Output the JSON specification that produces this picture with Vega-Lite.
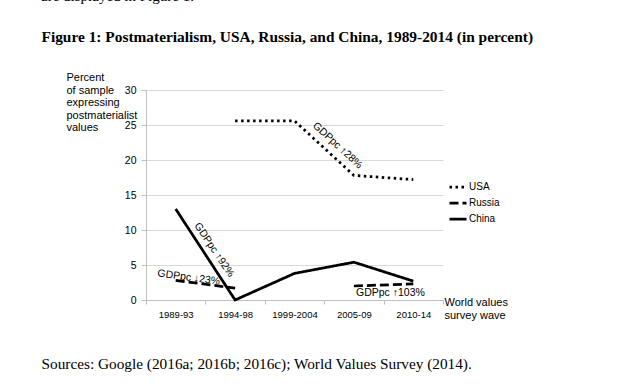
{
  "$schema": "https://vega.github.io/schema/vega-lite/v6.json",
  "width": 297,
  "height": 210,
  "autosize": {"type": "none"},
  "padding": {"left": 146, "top": 90, "right": 177, "bottom": 86},
  "background": "white",
  "title": {"text": "are displayed in Figure 1.", "anchor": "start", "frame": "group", "dx": -105, "offset": 25, "font": "Liberation Serif", "fontSize": 15, "fontWeight": "normal", "color": "#000000"},
  "config": {"view": {"stroke": null}},
  "layer": [
    {
      "data": {"values": [
        {"wave": "1989-93", "series": "China", "value": 13},
        {"wave": "1994-98", "series": "China", "value": 0},
        {"wave": "1999-2004", "series": "China", "value": 3.8},
        {"wave": "2005-09", "series": "China", "value": 5.4},
        {"wave": "2010-14", "series": "China", "value": 2.7},
        {"wave": "1989-93", "series": "Russia", "value": 2.8},
        {"wave": "1994-98", "series": "Russia", "value": 1.7},
        {"wave": "1999-2004", "series": "Russia", "value": null},
        {"wave": "2005-09", "series": "Russia", "value": 2.0},
        {"wave": "2010-14", "series": "Russia", "value": 2.3},
        {"wave": "1994-98", "series": "USA", "value": 25.6},
        {"wave": "1999-2004", "series": "USA", "value": 25.6},
        {"wave": "2005-09", "series": "USA", "value": 17.8},
        {"wave": "2010-14", "series": "USA", "value": 17.2}
      ]},
      "mark": {"type": "line", "color": "#000000", "strokeWidth": 2.75},
      "encoding": {
        "x": {"field": "wave", "type": "nominal",
          "scale": {"type": "band", "domain": ["1989-93", "1994-98", "1999-2004", "2005-09", "2010-14"], "paddingInner": 0, "paddingOuter": 0},
          "axis": {"orient": "bottom", "tickBand": "extent", "grid": false, "domainColor": "#bfbfbf", "tickColor": "#bfbfbf", "tickSize": 4, "labelAngle": 0, "labelFont": "Liberation Sans", "labelFontSize": 9.5, "labelColor": "#000000", "labelPadding": 5,
            "title": ["World values", "survey wave"], "titleX": 298, "titleY": 5.7, "titleAlign": "left", "titleBaseline": "alphabetic", "titleFont": "Liberation Sans", "titleFontSize": 11, "titleFontWeight": "normal", "titleColor": "#000000", "titleLineHeight": 12.5}},
        "y": {"field": "value", "type": "quantitative",
          "scale": {"domain": [0, 30], "nice": false},
          "axis": {"orient": "left", "values": [0, 5, 10, 15, 20, 25, 30], "grid": true, "gridColor": "#d9d9d9", "domainColor": "#bfbfbf", "tickColor": "#bfbfbf", "tickSize": 5, "labelFont": "Liberation Sans", "labelFontSize": 10.5, "labelColor": "#000000", "labelPadding": 5,
            "title": ["Percent", "of sample", "expressing", "postmaterialist", "values"], "titleAngle": 0, "titleX": -80, "titleY": -9.3, "titleAlign": "left", "titleBaseline": "alphabetic", "titleFont": "Liberation Sans", "titleFontSize": 11, "titleFontWeight": "normal", "titleColor": "#000000", "titleLineHeight": 12.5}},
        "strokeDash": {"field": "series", "type": "nominal",
          "scale": {"domain": ["USA", "Russia", "China"], "range": [[2.5, 3.5], [9, 4], [1, 0]]},
          "legend": {"orient": "none", "legendX": 302, "legendY": 87, "title": null, "symbolType": "stroke", "symbolSize": 289, "symbolStrokeWidth": 2.75, "symbolStrokeColor": "#000000", "labelFont": "Liberation Sans", "labelFontSize": 10, "labelColor": "#000000", "labelOffset": 1, "rowPadding": -1, "padding": 0}}
      }
    },
    {
      "data": {"values": [{"wave": "1999-2004", "value": 22.07, "label": "GDPpc ↑28%"}]},
      "mark": {"type": "text", "font": "Liberation Sans", "fontSize": 10.5, "color": "#000000", "angle": 42.5, "dx": 31.7, "dy": -29.1, "align": "center", "baseline": "middle"},
      "encoding": {
        "x": {"field": "wave", "type": "nominal",
          "axis": {"orient": "top", "domain": false, "ticks": false, "labels": false, "grid": false,
            "title": "Figure 1: Postmaterialism, USA, Russia, and China, 1989-2014 (in percent)", "titleX": -105, "titleY": -49, "titleAlign": "left", "titleBaseline": "alphabetic", "titleFont": "Liberation Serif", "titleFontSize": 15.4, "titleFontWeight": "bold", "titleColor": "#000000"}},
        "y": {"field": "value", "type": "quantitative",
          "axis": {"orient": "right", "domain": false, "ticks": false, "labels": false, "grid": false,
            "title": "Sources: Google (2016a; 2016b; 2016c); World Values Survey (2014).", "titleAngle": 0, "titleX": -402, "titleY": 278, "titleAlign": "left", "titleBaseline": "alphabetic", "titleFont": "Liberation Serif", "titleFontSize": 15.3, "titleFontWeight": "normal", "titleColor": "#000000"}},
        "text": {"field": "label", "type": "nominal"}
      }
    },
    {
      "data": {"values": [{"wave": "1989-93", "value": 7.14, "label": "GDPpc ↑92%"}]},
      "mark": {"type": "text", "font": "Liberation Sans", "fontSize": 10.5, "color": "#000000", "angle": 56, "dx": 21.5, "dy": -31.9, "align": "center", "baseline": "middle"},
      "encoding": {
        "x": {"field": "wave", "type": "nominal", "axis": null},
        "y": {"field": "value", "type": "quantitative", "axis": null},
        "text": {"field": "label", "type": "nominal"}
      }
    },
    {
      "data": {"values": [{"wave": "1989-93", "value": 3.21, "label": "GDPpc ↓23%"}]},
      "mark": {"type": "text", "font": "Liberation Sans", "fontSize": 10.5, "color": "#000000", "angle": 7.6, "dx": 12.9, "dy": -1.7, "align": "center", "baseline": "middle"},
      "encoding": {
        "x": {"field": "wave", "type": "nominal", "axis": null},
        "y": {"field": "value", "type": "quantitative", "axis": null},
        "text": {"field": "label", "type": "nominal"}
      }
    },
    {
      "data": {"values": [{"wave": "2005-09", "value": 0.93, "label": "GDPpc ↑103%"}]},
      "mark": {"type": "text", "font": "Liberation Sans", "fontSize": 10.5, "color": "#000000", "dx": 36.5, "align": "center", "baseline": "middle"},
      "encoding": {
        "x": {"field": "wave", "type": "nominal", "axis": null},
        "y": {"field": "value", "type": "quantitative", "axis": null},
        "text": {"field": "label", "type": "nominal"}
      }
    }
  ],
  "resolve": {"axis": {"x": "independent", "y": "independent"}}
}
